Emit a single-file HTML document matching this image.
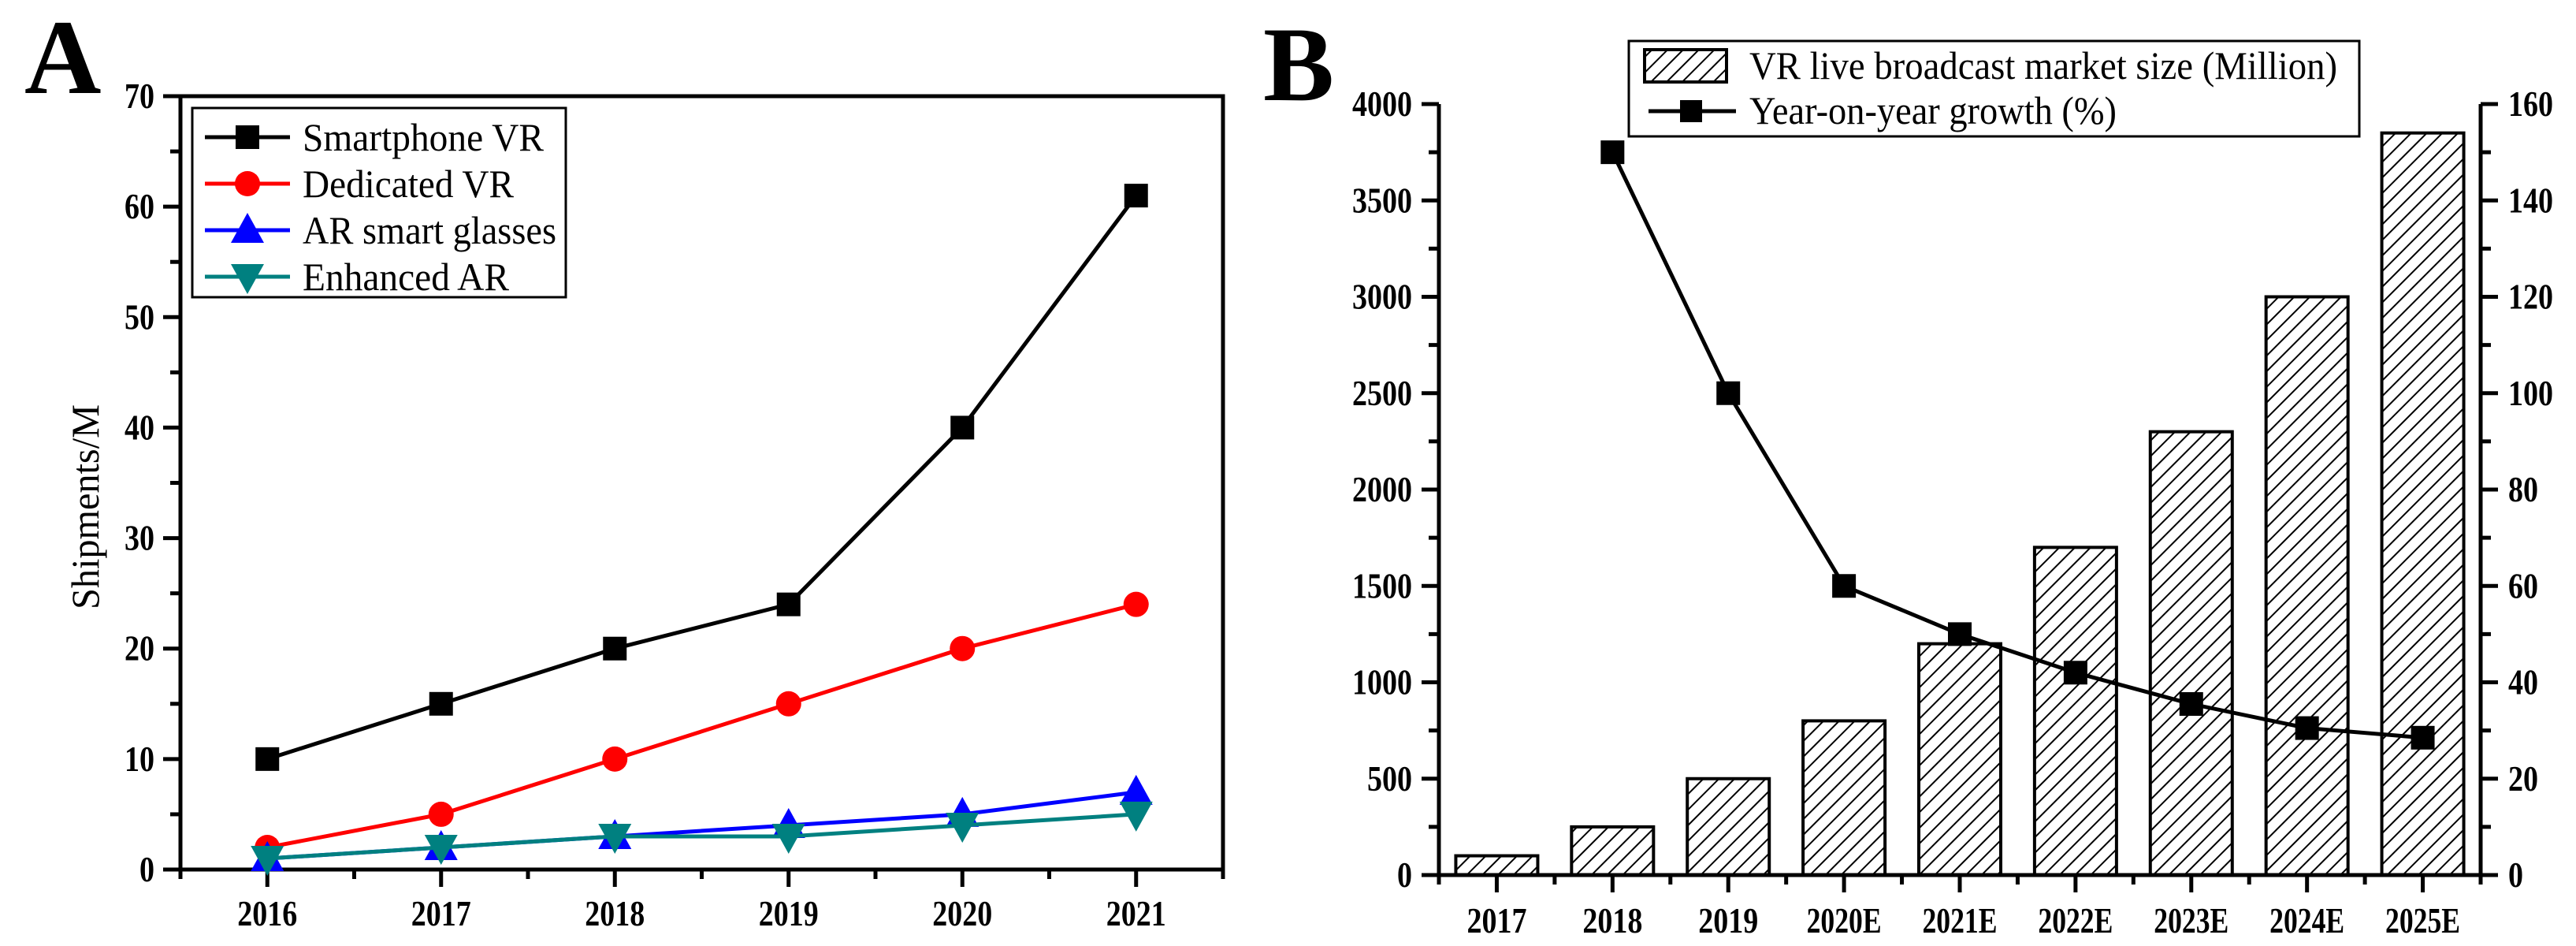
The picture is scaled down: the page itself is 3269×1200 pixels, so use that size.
<!DOCTYPE html>
<html><head><meta charset="utf-8">
<style>
html,body{margin:0;padding:0;background:#fff;}
svg{display:block;font-family:"Liberation Serif",serif;}
</style></head>
<body>
<svg id="fig" width="3269" height="1200" viewBox="0 0 3269 1200" xmlns="http://www.w3.org/2000/svg">
<defs>
<pattern id="hatch" patternUnits="userSpaceOnUse" width="14" height="14" patternTransform="rotate(45)">
<rect width="14" height="14" fill="#fff"/>
<line x1="0" y1="0" x2="0" y2="14" stroke="#000" stroke-width="4"/>
</pattern>
</defs>
<g id="panelA"></g>
<g id="panelB"></g>
</svg>
<script>
// ---- Panel A data ----
const yearsA = ["2016","2017","2018","2019","2020","2021"];
const smartphoneVR = [10, 15, 20, 24, 40, 61];
const dedicatedVR = [2, 5, 10, 15, 20, 24];
const arGlasses = [1, 2, 3, 4, 5, 7];
const enhancedAR = [1, 2, 3, 3, 4, 5];
const yTicksA = [0,10,20,30,40,50,60,70];
// ---- Panel B data ----
const catsB = ["2017","2018","2019","2020E","2021E","2022E","2023E","2024E","2025E"];
const marketSize = [100, 250, 500, 800, 1200, 1700, 2300, 3000, 3850];
const growthCats = ["2018","2019","2020E","2021E","2022E","2023E","2024E","2025E"];
const growth = [150, 100, 60, 50, 42, 35.5, 30.5, 28.5];
const yTicksBL = [0,500,1000,1500,2000,2500,3000,3500,4000];
const yTicksBR = [0,20,40,60,80,100,120,140,160];

const NS = "http://www.w3.org/2000/svg";
function mk(parent, tag, attrs, text){
  const e = document.createElementNS(NS, tag);
  for (const k in attrs) e.setAttribute(k, attrs[k]);
  if (text !== undefined) e.textContent = text;
  parent.appendChild(e);
  return e;
}
function tickText(parent, x, y, str, anchor){
  return mk(parent,'text',{x:x,y:y,'font-size':46,'font-weight':'bold','text-anchor':anchor,textLength:str.length*19,lengthAdjust:'spacingAndGlyphs'},str);
}

// ===== Panel A =====
const A = document.getElementById('panelA');
const aL=229, aR=1552, aT=122, aB=1103;
const xA = i => aL + (i + 0.5) * (aR - aL) / 6;
const yA = v => aB - v * (aB - aT) / 70;

let t = mk(A,'text',{x:31,y:118,'font-size':135,'font-weight':'bold'},'A');



let fr = mk(A,'rect',{x:aL,y:aT,width:aR-aL,height:aB-aT,fill:'none',stroke:'#000','stroke-width':5});



yTicksA.forEach(v=>{
  const y = yA(v);
  const tk = mk(A,'line',{x1:aL-22,y1:y,x2:aL,y2:y,stroke:'#000','stroke-width':5});
  
  
  const lb = tickText(A, aL-33, y+15, String(v), 'end');
  
  
  if (v < 70) {
    const m = mk(A,'line',{x1:aL-13,y1:yA(v+5),x2:aL,y2:yA(v+5),stroke:'#000','stroke-width':5});
    
    
  }
});
for (let i=0;i<=6;i++){
  const xb = aL + i*(aR-aL)/6;
  const m = mk(A,'line',{x1:xb,y1:aB,x2:xb,y2:aB+12,stroke:'#000','stroke-width':5});
  
  
}
yearsA.forEach((yr,i)=>{
  const x = xA(i);
  const tk = mk(A,'line',{x1:x,y1:aB,x2:x,y2:aB+22,stroke:'#000','stroke-width':5});
  
  
  const lb = tickText(A, x, aB+71, yr, 'middle');
  
  
});
t = mk(A,'text',{x:0,y:0,'font-size':50,'text-anchor':'middle',textLength:260,lengthAdjust:'spacingAndGlyphs',transform:'translate(125,643) rotate(-90)'},'Shipments/M');



function marker(g, type, x, y, color){
  let e;
  if (type==='square') e = mk(g,'rect',{x:x-15,y:y-15,width:30,height:30,fill:color});
  else if (type==='circle') e = mk(g,'circle',{cx:x,cy:y,r:16,fill:color});
  else if (type==='up') e = mk(g,'polygon',{points:`${x},${y-22} ${x+21},${y+16} ${x-21},${y+16}`,fill:color});
  else e = mk(g,'polygon',{points:`${x},${y+22} ${x+21},${y-16} ${x-21},${y-16}`,fill:color});
  return e;
}
const seriesA = [
  {name:'smartphone-vr', vals:smartphoneVR, color:'#000', m:'square'},
  {name:'dedicated-vr', vals:dedicatedVR, color:'#ff0000', m:'circle'},
  {name:'ar-smart-glasses', vals:arGlasses, color:'#0000ff', m:'up'},
  {name:'enhanced-ar', vals:enhancedAR, color:'#008080', m:'down'}
];
seriesA.forEach(s=>{
  const g = mk(A,'g',{});
  
  
  const pts = s.vals.map((v,i)=>`${xA(i)},${yA(v)}`).join(' ');
  const pl = mk(g,'polyline',{points:pts,fill:'none',stroke:s.color,'stroke-width':5});
  
  
  s.vals.forEach((v,i)=>{
    const mm = marker(g, s.m, xA(i), yA(v), s.color);
    
    
  });
});
const legA = mk(A,'g',{});


let lbx = mk(legA,'rect',{x:244,y:137,width:474,height:240,fill:'#fff',stroke:'#000','stroke-width':3});


const legLabels = ['Smartphone VR','Dedicated VR','AR smart glasses','Enhanced AR'];
const legW = [306, 268, 322, 262];
seriesA.forEach((s,k)=>{
  const y = 174 + k*59;
  const ge = mk(legA,'g',{});
  
  
  mk(ge,'line',{x1:260,y1:y,x2:368,y2:y,stroke:s.color,'stroke-width':5});
  marker(ge, s.m, 314, y, s.color);
  mk(ge,'text',{x:384,y:y+17,'font-size':50,textLength:legW[k],lengthAdjust:'spacingAndGlyphs'},legLabels[k]);
});

// ===== Panel B =====
const B = document.getElementById('panelB');
const bL=1826, bR=3148, bT=132, bB=1110;
const nB = catsB.length;
const xB = i => bL + (i + 0.5) * (bR - bL) / nB;
const yBL = v => bB - v * (bB - bT) / 4000;
const yBR = v => bB - v * (bB - bT) / 160;

t = mk(B,'text',{x:1603,y:127,'font-size':135,'font-weight':'bold'},'B');



const barW = 104;
marketSize.forEach((v,i)=>{
  const r = mk(B,'rect',{x:xB(i)-barW/2,y:yBL(v),width:barW,height:bB-yBL(v),fill:'url(#hatch)',stroke:'#000','stroke-width':4});
  
  
});
let ax = mk(B,'line',{x1:bL,y1:bT,x2:bL,y2:bB+2,stroke:'#000','stroke-width':5});


ax = mk(B,'line',{x1:bR,y1:bT,x2:bR,y2:bB+2,stroke:'#000','stroke-width':5});


ax = mk(B,'line',{x1:bL-2,y1:bB,x2:bR+2,y2:bB,stroke:'#000','stroke-width':5});



yTicksBL.forEach(v=>{
  const y = yBL(v);
  const tk = mk(B,'line',{x1:bL-22,y1:y,x2:bL,y2:y,stroke:'#000','stroke-width':5});
  
  
  const lb = tickText(B, bL-34, y+15, String(v), 'end');
  
  
  if (v<4000){
    const m = mk(B,'line',{x1:bL-13,y1:yBL(v+250),x2:bL,y2:yBL(v+250),stroke:'#000','stroke-width':5});
    
    
  }
});
yTicksBR.forEach(v=>{
  const y = yBR(v);
  const tk = mk(B,'line',{x1:bR,y1:y,x2:bR+22,y2:y,stroke:'#000','stroke-width':5});
  
  
  const lb = tickText(B, bR+35, y+15, String(v), 'start');
  
  
  if (v<160){
    const m = mk(B,'line',{x1:bR,y1:yBR(v+10),x2:bR+13,y2:yBR(v+10),stroke:'#000','stroke-width':5});
    
    
  }
});
for (let i=0;i<=nB;i++){
  const xb = bL + i*(bR-bL)/nB;
  const m = mk(B,'line',{x1:xb,y1:bB,x2:xb,y2:bB+12,stroke:'#000','stroke-width':5});
  
  
}
catsB.forEach((c,i)=>{
  const x = xB(i);
  const tk = mk(B,'line',{x1:x,y1:bB,x2:x,y2:bB+22,stroke:'#000','stroke-width':5});
  
  
  const lb = tickText(B, x, bB+73, c, 'middle');
  
  
});
const gl = mk(B,'g',{});


const gpts = growth.map((v,k)=>`${xB(catsB.indexOf(growthCats[k]))},${yBR(v)}`).join(' ');
let gp = mk(gl,'polyline',{points:gpts,fill:'none',stroke:'#000','stroke-width':5});


growth.forEach((v,k)=>{
  const x = xB(catsB.indexOf(growthCats[k])), y = yBR(v);
  const r = mk(gl,'rect',{x:x-15,y:y-15,width:30,height:30,fill:'#000'});
  
  
});
const legB = mk(B,'g',{});


let lbb = mk(legB,'rect',{x:2067,y:52,width:927,height:121,fill:'#fff',stroke:'#000','stroke-width':3});


const le1 = mk(legB,'g',{});


mk(le1,'rect',{x:2087,y:63,width:104,height:41,fill:'url(#hatch)',stroke:'#000','stroke-width':4});
mk(le1,'text',{x:2220,y:100,'font-size':50,textLength:746,lengthAdjust:'spacingAndGlyphs'},'VR live broadcast market size (Million)');
const le2 = mk(legB,'g',{});


mk(le2,'line',{x1:2092,y1:141,x2:2203,y2:141,stroke:'#000','stroke-width':5});
mk(le2,'rect',{x:2132,y:127,width:28,height:28,fill:'#000'});
mk(le2,'text',{x:2220,y:157,'font-size':50,textLength:466,lengthAdjust:'spacingAndGlyphs'},'Year-on-year growth (%)');
</script>
</body></html>
